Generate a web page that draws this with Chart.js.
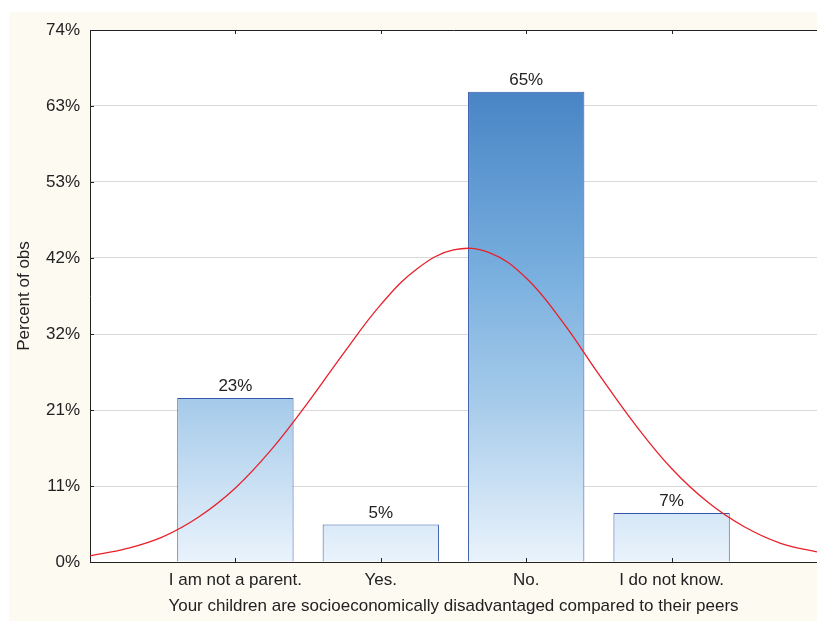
<!DOCTYPE html>
<html>
<head>
<meta charset="utf-8">
<script src="https://cdn.jsdelivr.net/npm/chart.js@4"></script>
<style>
  html, body { margin: 0; padding: 0; background: #fff; }
  #wrap { width: 817px; height: 621px; }
</style>
</head>
<body>
<div id="wrap"><canvas id="hist" width="817" height="621"></canvas></div>
<script>
  // categories sit at x = 1..4 on a linear axis
  const categories = ['I am not a parent.', 'Yes.', 'No.', 'I do not know.'];
  const percents = [22.8, 5.2, 65.4, 6.8];
  const barLabels = ['23%', '5%', '65%', '7%'];

  // red normal curve
  const curveX = [0, 0.25, 0.5, 0.75, 1, 1.25, 1.5, 1.75, 2, 2.25, 2.5, 2.75, 3, 3.25, 3.5, 3.75, 4, 4.25, 4.5, 4.75, 5];
  const curveY = [0.85, 1.85, 3.5, 6.3, 10.3, 15.7, 22.2, 29.2, 35.8, 40.8, 43.4, 43.0, 39.5, 33.4, 26.1, 19.1, 13.0, 8.3, 4.9, 2.6, 1.4];

  const yTickValues = [0, 10.57, 21.14, 31.71, 42.29, 52.86, 63.43, 74];
  const yTickLabels = ['0%', '11%', '21%', '32%', '42%', '53%', '63%', '74%'];

  const font = { family: '"Liberation Sans", Arial, sans-serif', size: 17 };

  function barGradient(context) {
    const area = context.chart.chartArea;
    if (!area) return '#8ab8e2';
    const g = context.chart.ctx.createLinearGradient(0, area.top, 0, area.bottom);
    g.addColorStop(0, '#3b74be');
    g.addColorStop(0.12, '#4985c6');
    g.addColorStop(0.45, '#77aede');
    g.addColorStop(0.7, '#a6cbea');
    g.addColorStop(1, '#eaf3fc');
    return g;
  }

  const framePlugin = {
    id: 'frame',
    beforeDraw(chart) {
      const c = chart.ctx, a = chart.chartArea;
      c.save();
      c.fillStyle = '#fdfaf2';
      c.fillRect(9, 12, chart.width - 9, chart.height - 12);
      c.fillStyle = '#ffffff';
      c.fillRect(a.left, a.top, a.right - a.left, a.bottom - a.top);
      c.restore();
    },
    afterDraw(chart) {
      const c = chart.ctx, a = chart.chartArea;
      const xs = chart.scales.x, ys = chart.scales.y;
      c.save();
      c.strokeStyle = '#222';
      c.lineWidth = 1;
      c.beginPath();
      c.moveTo(a.left, a.top + 0.5);
      c.lineTo(a.right, a.top + 0.5);
      // inward tick marks
      categories.forEach((_, i) => {
        const px = Math.round(xs.getPixelForValue(i + 1)) + 0.5;
        c.moveTo(px, a.bottom);
        c.lineTo(px, a.bottom - 4);
        c.moveTo(px, a.top);
        c.lineTo(px, a.top + 4);
      });
      yTickValues.forEach(v => {
        const py = Math.round(ys.getPixelForValue(v)) + 0.5;
        c.moveTo(a.left, py);
        c.lineTo(a.left + 4, py);
      });
      c.stroke();

      // value labels above bars
      c.fillStyle = '#222';
      c.font = font.size + 'px ' + font.family;
      c.textAlign = 'center';
      c.textBaseline = 'bottom';
      const meta = chart.getDatasetMeta(1);
      meta.data.forEach((bar, i) => {
        c.fillText(barLabels[i], bar.x, bar.y - 3);
      });
      c.restore();
    }
  };

  new Chart(document.getElementById('hist'), {
    data: {
      datasets: [
        {
          type: 'line',
          data: curveX.map((x, i) => ({ x: x, y: curveY[i] })),
          borderColor: '#e8202a',
          borderWidth: 1.3,
          pointRadius: 0,
          tension: 0.4,
          fill: false,
          order: 0
        },
        {
          type: 'bar',
          data: categories.map((_, i) => ({ x: i + 1, y: percents[i] })),
          backgroundColor: barGradient,
          borderColor: '#3558aa',
          borderWidth: 1,
          barPercentage: 1,
          categoryPercentage: 0.8,
          order: 1
        }
      ]
    },
    options: {
      responsive: false,
      animation: false,
      layout: { padding: { left: 10, top: 30, right: 0, bottom: 0 } },
      plugins: { legend: { display: false }, tooltip: { enabled: false } },
      scales: {
        x: {
          type: 'linear',
          min: 0,
          max: 5,
          offset: false,
          grid: { display: false, drawTicks: false, offset: false },
          border: { display: true, color: '#222', width: 1 },
          afterBuildTicks: s => { s.ticks = categories.map((_, i) => ({ value: i + 1 })); },
          afterFit: s => { s.height = 59; },
          ticks: {
            color: '#222',
            font: font,
            padding: 8,
            autoSkip: false,
            maxRotation: 0,
            callback: v => categories[v - 1] || ''
          },
          title: {
            display: true,
            text: 'Your children are socioeconomically disadvantaged compared to their peers',
            color: '#222',
            font: font,
            padding: 4
          }
        },
        y: {
          min: 0,
          max: 74,
          grid: {
            drawTicks: false,
            color: ctx => (ctx.tick && ctx.tick.value > 0 && ctx.tick.value < 74) ? '#d9d9d9' : 'rgba(0,0,0,0)'
          },
          border: { display: true, color: '#222', width: 1 },
          afterBuildTicks: s => { s.ticks = yTickValues.map(v => ({ value: v })); },
          afterFit: s => { s.width = 80; },
          ticks: {
            color: '#222',
            font: font,
            padding: 10,
            callback: (v, i) => yTickLabels[i]
          },
          title: {
            display: true,
            text: 'Percent of obs',
            color: '#222',
            font: font,
            padding: 4
          }
        }
      }
    },
    plugins: [framePlugin]
  });
</script>
</body>
</html>
